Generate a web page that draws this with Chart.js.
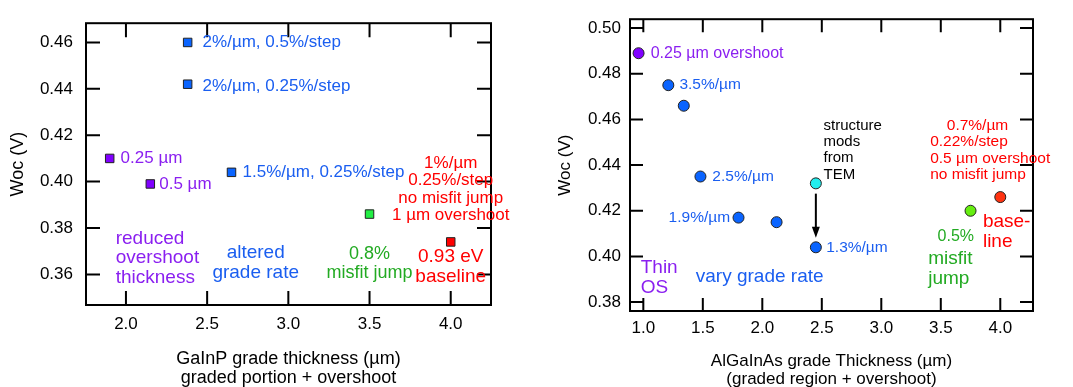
<!DOCTYPE html>
<html>
<head>
<meta charset="utf-8">
<script src="https://cdn.jsdelivr.net/npm/chart.js@4.4.0/dist/chart.umd.min.js"></script>
<style>
  html, body { margin: 0; padding: 0; background: #fff; }
  #wrap { position: relative; width: 1073px; height: 387px; }
  canvas { position: absolute; top: 0; }
  #c1 { left: 0; }
  #c2 { left: 530px; }
</style>
</head>
<body>
<div id="wrap">
  <canvas id="c1" width="530" height="387"></canvas>
  <canvas id="c2" width="543" height="387"></canvas>
</div>
<script>
const FONT = '"Liberation Sans", Arial, Helvetica, sans-serif';

// left panel: GaInP grade
const gainpThickness = [1.9, 2.15, 2.38, 2.38, 2.65, 3.5, 4.0];
const gainpWoc       = [0.410, 0.399, 0.460, 0.442, 0.404, 0.386, 0.374];
const gainpColors    = ['#8000ff', '#8000ff', '#0a64ff', '#0a64ff', '#0a64ff', '#22ee44', '#ff0000'];
const gainpXTicks    = [2.0, 2.5, 3.0, 3.5, 4.0];
const gainpYTicks    = [0.36, 0.38, 0.40, 0.42, 0.44, 0.46];

// right panel: AlGaInAs grade
const algaThickness = [0.96, 1.21, 1.34, 1.48, 1.80, 2.12, 2.45, 2.45, 3.75, 4.0];
const algaWoc       = [0.489, 0.475, 0.466, 0.435, 0.417, 0.415, 0.432, 0.404, 0.420, 0.426];
const algaColors    = ['#8000ff', '#0a64ff', '#0a64ff', '#0a64ff', '#0a64ff', '#0a64ff', '#22eeee', '#0a64ff', '#66ee11', '#ff3311'];
const algaXTicks    = [1.0, 1.5, 2.0, 2.5, 3.0, 3.5, 4.0];
const algaYTicks    = [0.38, 0.40, 0.42, 0.44, 0.46, 0.48, 0.50];

const PURPLE = '#8a1ff0', BLUE = '#1a5ef0', GREEN = '#22aa22', RED = '#ff0000';

const gainpNotes = [
  { x: 2.472, y: 0.460, lines: ['2%/µm, 0.5%/step'], color: BLUE, size: 17 },
  { x: 2.472, y: 0.4413, lines: ['2%/µm, 0.25%/step'], color: BLUE, size: 17 },
  { x: 1.967, y: 0.410, lines: ['0.25 µm'], color: PURPLE, size: 17 },
  { x: 2.205, y: 0.399, lines: ['0.5 µm'], color: PURPLE, size: 17 },
  { x: 2.718, y: 0.404, lines: ['1.5%/µm, 0.25%/step'], color: BLUE, size: 17 },
  { x: 4.0, y: 0.4079, lines: ['1%/µm', '0.25%/step', 'no misfit jump', '1 µm overshoot'], color: RED, size: 17, lh: 17.3, align: 'center' },
  { x: 1.937, y: 0.3755, lines: ['reduced', 'overshoot', 'thickness'], color: PURPLE, size: 19, lh: 19.5 },
  { x: 2.799, y: 0.3693, lines: ['altered', 'grade rate'], color: BLUE, size: 19, lh: 20, align: 'center' },
  { x: 3.5, y: 0.3686, lines: ['0.8%', 'misfit jump'], color: GREEN, size: 18, lh: 19, align: 'center' },
  { x: 4.0, y: 0.3675, lines: ['0.93 eV', 'baseline'], color: RED, size: 19, lh: 20, align: 'center' }
];

const algaNotes = [
  { x: 1.062, y: 0.4888, lines: ['0.25 µm overshoot'], color: PURPLE, size: 16 },
  { x: 1.303, y: 0.475, lines: ['3.5%/µm'], color: BLUE, size: 15.5 },
  { x: 1.580, y: 0.4351, lines: ['2.5%/µm'], color: BLUE, size: 15.5 },
  { x: 1.729, y: 0.4168, lines: ['1.9%/µm'], color: BLUE, size: 15.5, align: 'right' },
  { x: 2.537, y: 0.4038, lines: ['1.3%/µm'], color: BLUE, size: 15.5 },
  { x: 2.514, y: 0.4572, lines: ['structure', 'mods', 'from', 'TEM'], color: '#000', size: 15, lh: 16.2 },
  { x: 4.067, y: 0.4572, lines: ['0.7%/µm'], color: RED, size: 15.5, align: 'right' },
  { x: 3.411, y: 0.4502, lines: ['0.22%/step', '0.5 µm overshoot', 'no misfit jump'], color: RED, size: 15.5, lh: 16.6 },
  { x: 3.854, y: 0.4154, lines: ['base-', 'line'], color: RED, size: 19, lh: 20 },
  { x: 3.473, y: 0.4089, lines: ['0.5%'], color: GREEN, size: 16 },
  { x: 3.394, y: 0.3988, lines: ['misfit', 'jump'], color: GREEN, size: 19, lh: 20 },
  { x: 0.978, y: 0.3950, lines: ['Thin', 'OS'], color: PURPLE, size: 19, lh: 20 },
  { x: 1.441, y: 0.3912, lines: ['vary grade rate'], color: BLUE, size: 19 }
];

const framePlugin = {
  id: 'frame',
  beforeDatasetsDraw(chart, args, opts) {
    const { ctx, chartArea: a, scales: { x, y } } = chart;
    const L = opts.tick;
    ctx.save();
    ctx.strokeStyle = '#000';
    ctx.lineWidth = 2;
    ctx.beginPath();
    x.ticks.forEach(t => {
      const px = x.getPixelForValue(t.value);
      ctx.moveTo(px, a.bottom); ctx.lineTo(px, a.bottom - L);
      ctx.moveTo(px, a.top); ctx.lineTo(px, a.top + L);
    });
    y.ticks.forEach(t => {
      const py = y.getPixelForValue(t.value);
      ctx.moveTo(a.left, py); ctx.lineTo(a.left + L, py);
      ctx.moveTo(a.right, py); ctx.lineTo(a.right - L, py);
    });
    ctx.stroke();
    ctx.strokeRect(a.left, a.top, a.right - a.left, a.bottom - a.top);

    if (opts.arrow) {
      const ar = opts.arrow;
      const px = x.getPixelForValue(ar.x);
      const y1 = y.getPixelForValue(ar.y1), y2 = y.getPixelForValue(ar.y2);
      ctx.beginPath();
      ctx.moveTo(px, y1); ctx.lineTo(px, y2 - 8);
      ctx.stroke();
      ctx.fillStyle = '#000';
      ctx.beginPath();
      ctx.moveTo(px, y2); ctx.lineTo(px - 4, y2 - 11); ctx.lineTo(px + 4, y2 - 11);
      ctx.closePath();
      ctx.fill();
    }
    ctx.restore();
  },
  afterDatasetsDraw(chart, args, opts) {
    const { ctx, scales: { x, y } } = chart;
    ctx.save();
    ctx.textBaseline = 'middle';
    (opts.notes || []).forEach(n => {
      ctx.font = n.size + 'px ' + FONT;
      ctx.fillStyle = n.color;
      ctx.textAlign = n.align || 'left';
      const px = x.getPixelForValue(n.x), py = y.getPixelForValue(n.y);
      n.lines.forEach((s, i) => ctx.fillText(s, px, py + i * (n.lh || 0)));
    });
    ctx.restore();
  }
};

function makeChart(id, xs, ys, colors, style, radius, cfg) {
  const pts = xs.map((v, i) => ({ x: v, y: ys[i] }));
  return new Chart(document.getElementById(id), {
    type: 'scatter',
    data: { datasets: [{
      data: pts,
      pointStyle: style,
      pointRadius: radius,
      pointHoverRadius: radius,
      pointBackgroundColor: colors,
      pointBorderColor: '#222',
      pointBorderWidth: 1
    }] },
    options: {
      responsive: false,
      animation: false,
      events: [],
      layout: { padding: cfg.padding },
      plugins: {
        legend: { display: false },
        tooltip: { enabled: false },
        frame: { tick: cfg.tick, notes: cfg.notes, arrow: cfg.arrow }
      },
      scales: {
        x: {
          type: 'linear', min: cfg.xMin, max: cfg.xMax,
          afterBuildTicks: s => { s.ticks = cfg.xTicks.map(v => ({ value: v })); },
          afterFit: s => { s.height = cfg.xH; },
          grid: { display: false, drawTicks: false },
          border: { display: false },
          ticks: { color: '#000', padding: cfg.xPad, font: { family: FONT, size: 17 }, callback: v => v.toFixed(1), maxRotation: 0 },
          title: { display: true, text: cfg.xTitle, color: '#000', font: { family: FONT, size: cfg.xTitleSize, lineHeight: 1.06 }, padding: { top: 0, bottom: -1 } }
        },
        y: {
          type: 'linear', min: cfg.yMin, max: cfg.yMax,
          afterBuildTicks: s => { s.ticks = cfg.yTicks.map(v => ({ value: v })); },
          afterFit: s => { s.width = cfg.yW; },
          grid: { display: false, drawTicks: false },
          border: { display: false },
          ticks: { color: '#000', padding: cfg.yPad, font: { family: FONT, size: 17 }, callback: v => v.toFixed(2) },
          title: { display: true, text: 'Woc (V)', color: '#000', font: { family: FONT, size: cfg.yTitleSize, lineHeight: 1.06 }, padding: { top: cfg.yTitlePad, bottom: 0 } }
        }
      }
    },
    plugins: [framePlugin]
  });
}

makeChart('c1', gainpThickness, gainpWoc, gainpColors, 'rect', 6, {
  padding: { left: 0, top: 14, right: 39, bottom: 0 },
  xMin: 1.754, xMax: 4.248, yMin: 0.3468, yMax: 0.4683,
  xTicks: gainpXTicks, yTicks: gainpYTicks,
  xH: 82, yW: 86, xPad: 9, yPad: 13, tick: 14,
  xTitle: ['GaInP grade thickness (µm)', 'graded portion + overshoot'], xTitleSize: 18,
  yTitleSize: 18, yTitlePad: 8.5,
  notes: gainpNotes
});

makeChart('c2', algaThickness, algaWoc, algaColors, 'circle', 5.5, {
  padding: { left: 0, top: 15, right: 40, bottom: 0 },
  xMin: 0.888, xMax: 4.275, yMin: 0.3761, yMax: 0.5039,
  xTicks: algaXTicks, yTicks: algaYTicks,
  xH: 76, yW: 100, xPad: 7, yPad: 9, tick: 13,
  xTitle: ['AlGaInAs grade Thickness (µm)', '(graded region + overshoot)'], xTitleSize: 17,
  yTitleSize: 17, yTitlePad: 26,
  notes: algaNotes,
  arrow: { x: 2.45, y1: 0.4275, y2: 0.4082 }
});
</script>
</body>
</html>
